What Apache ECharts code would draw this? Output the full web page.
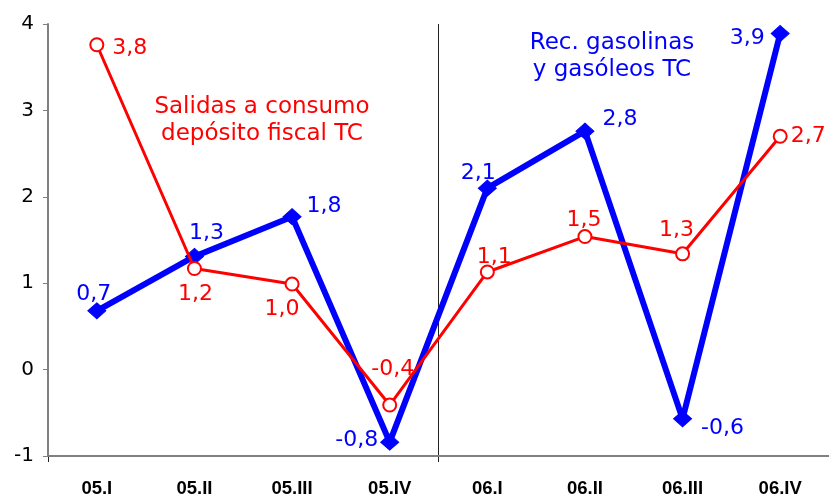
<!DOCTYPE html>
<html>
<head>
<meta charset="utf-8">
<script src="https://cdn.jsdelivr.net/npm/echarts@6/dist/echarts.min.js"></script>
<style>html,body{margin:0;padding:0;background:#fff}#c{width:829px;height:498px}</style>
</head>
<body>
<div id="c"></div>
<script>
const categories = ['05.I','05.II','05.III','05.IV','06.I','06.II','06.III','06.IV'];
const salidasValues = [3.76, 1.17, 0.99, -0.41, 1.13, 1.54, 1.34, 2.70];
const recValues = [0.68, 1.31, 1.77, -0.84, 2.10, 2.76, -0.57, 3.89];
const salidasLines = ['Salidas a consumo', 'depósito fiscal TC'];
const recLines = ['Rec. gasolinas', 'y gasóleos TC'];
const yTicks = [-1, 0, 1, 2, 3, 4];
// year separator: boundary after the 4th quarter (category slot units)
const yearSplit = 4;

const RED = '#ff0000', BLUE = '#0000ff';
const FONT = 'DejaVu Sans';

// label placement (style only)
const redLabelCfg = [
  {position:'right', distance:8, offset:[0,4]},
  {position:'bottom', distance:7, offset:[1,0]},
  {position:'bottom', distance:7, offset:[-10,0]},
  {position:'top', distance:17, offset:[3,0]},
  {position:'top', distance:-4, offset:[7,0]},
  {position:'top', distance:-2, offset:[-1,0]},
  {position:'top', distance:5, offset:[-6,0]},
  {position:'right', distance:3, offset:[0,0]}
];
const blueLabelCfg = [
  {position:'top', distance:-3, offset:[-3,0]},
  {position:'top', distance:4, offset:[12,0]},
  {position:'right', distance:5, offset:[0,-10]},
  {position:'left', distance:2, offset:[0,-2]},
  {position:'top', distance:-5, offset:[-9,0]},
  {position:'right', distance:8, offset:[0,-12]},
  {position:'right', distance:9, offset:[0,9]},
  {position:'left', distance:6, offset:[0,5]}
];

const fmt = v => v.toFixed(1).replace('.', ',');

function buildData(values, cfg, color) {
  return values.map((v, i) => ({
    value: v,
    label: {
      show: true,
      position: cfg[i].position,
      distance: cfg[i].distance,
      offset: cfg[i].offset,
      color: color,
      fontFamily: FONT,
      fontSize: 22,
      formatter: p => fmt(p.value)
    }
  }));
}

function annot(lines, cx, cy, lh, color) {
  return lines.map((t, i) => ({
    type: 'text', x: cx, y: cy + i * lh, z: 10,
    style: {text: t, fill: color, fontFamily: FONT, fontSize: 23, align: 'center', verticalAlign: 'middle'}
  }));
}

const chart = echarts.init(document.getElementById('c'), null, {renderer: 'canvas'});
chart.setOption({
  animation: false,
  backgroundColor: '#ffffff',
  grid: {left: 48, top: 24, width: 784, height: 434, containLabel: false},
  xAxis: [
    {
      type: 'category',
      data: categories,
      boundaryGap: true,
      axisLine: {show: true, onZero: false, lineStyle: {color: '#808080', width: 2}},
      axisTick: {show: false},
      splitLine: {show: false},
      axisLabel: {color: '#000', fontFamily: 'Liberation Sans', fontWeight: 'bold', fontSize: 18.5, margin: 23, interval: 0},
      z: 3
    },
    {
      type: 'value',
      min: 0, max: categories.length, interval: yearSplit,
      position: 'bottom',
      axisLine: {show: false, onZero: false},
      axisTick: {show: true, length: 6, inside: false, lineStyle: {color: '#222', width: 1}},
      axisLabel: {show: false},
      splitLine: {show: true, lineStyle: {color: '#222', width: 1}},
      z: 1
    }
  ],
  yAxis: {
    type: 'value',
    min: yTicks[0], max: yTicks[yTicks.length - 1], interval: 1,
    axisLine: {show: true, lineStyle: {color: '#808080', width: 2}},
    axisTick: {show: true, length: 5, lineStyle: {color: '#808080', width: 1}},
    splitLine: {show: false},
    axisLabel: {color: '#000', fontFamily: FONT, fontSize: 20, margin: 14,
      formatter: v => String(v)},
    z: 3
  },
  graphic: [].concat(
    annot(salidasLines, 262, 107, 27, RED),
    annot(recLines, 612, 43, 27, BLUE)
  ),
  series: [
    {
      name: recLines.join(' '),
      type: 'line',
      xAxisIndex: 0,
      data: buildData(recValues, blueLabelCfg, BLUE),
      symbol: 'diamond',
      symbolSize: [18, 16],
      showAllSymbol: true,
      itemStyle: {color: BLUE, borderColor: BLUE},
      lineStyle: {color: BLUE, width: 6},
      z: 2
    },
    {
      name: salidasLines.join(' '),
      type: 'line',
      xAxisIndex: 0,
      data: buildData(salidasValues, redLabelCfg, RED),
      symbol: 'circle',
      symbolSize: 13,
      showAllSymbol: true,
      itemStyle: {color: '#ffffff', borderColor: RED, borderWidth: 2},
      lineStyle: {color: RED, width: 3},
      z: 3
    }
  ]
});
</script>
</body>
</html>
